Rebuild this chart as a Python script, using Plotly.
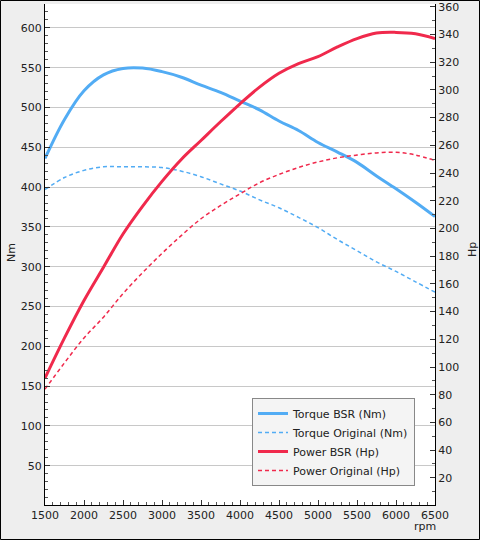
import plotly.graph_objects as go

rpm = [1500, 1750, 2000, 2250, 2500, 2750, 3000, 3250, 3500, 3750, 4000,
       4250, 4500, 4750, 5000, 5250, 5500, 5750, 6000, 6250, 6500]
torque_bsr = [436, 485, 521, 541, 549, 549.5, 545, 538, 528, 519, 508,
              497, 483, 471, 456, 444, 431, 414, 398, 381, 363]
torque_orig = [397, 412, 421, 425.5, 425.5, 425.5, 424.5, 420, 413, 404, 395,
               384, 374, 362, 349, 334, 320, 306, 294, 281, 268]
power_bsr = [92, 121, 148, 172, 196, 216, 234, 250, 263.5, 277, 290,
             302, 312, 319, 324, 331, 337, 341, 341.5, 340.5, 337]
power_orig = [84, 103, 121, 136, 153, 168, 182, 195, 207, 216.5, 225,
              233, 239, 244, 248, 251, 253, 254.5, 255, 253, 249]

BLUE = "#52acf4"
RED = "#f0294c"
FONT = "DejaVu Sans"

fig = go.Figure()
fig.add_trace(go.Scatter(x=rpm, y=torque_bsr, name="Torque BSR (Nm)", mode="lines",
                         line=dict(color=BLUE, width=3, shape="spline", smoothing=1.0), yaxis="y"))
fig.add_trace(go.Scatter(x=rpm, y=torque_orig, name="Torque Original (Nm)", mode="lines",
                         line=dict(color=BLUE, width=1.5, dash="4px,3px", shape="spline", smoothing=1.0), yaxis="y"))
fig.add_trace(go.Scatter(x=rpm, y=power_bsr, name="Power BSR (Hp)", mode="lines",
                         line=dict(color=RED, width=3, shape="spline", smoothing=1.0), yaxis="y2"))
fig.add_trace(go.Scatter(x=rpm, y=power_orig, name="Power Original (Hp)", mode="lines",
                         line=dict(color=RED, width=1.5, dash="4px,3px", shape="spline", smoothing=1.0), yaxis="y2"))

W, H = 480, 540
L, R, T, B = 45, 45, 4, 35
pw, ph = W - L - R, H - T - B

def ann(text, px, py, angle=0):
    return dict(text=text, xref="paper", yref="paper", x=(px - L) / pw, y=1 - (py - T) / ph,
                xanchor="center", yanchor="middle", showarrow=False, textangle=angle,
                font=dict(family=FONT, size=11, color="#222"))

fig.update_layout(
    width=W, height=H,
    margin=dict(l=L, r=R, t=T, b=B, pad=0, autoexpand=False),
    paper_bgcolor="#eeeeee",
    plot_bgcolor="white",
    font=dict(family=FONT, size=11, color="#222222"),
    showlegend=True,
    legend=dict(x=(252 - L) / pw, y=1 - (398 - T) / ph, xanchor="left", yanchor="top",
                bgcolor="#f4f4f4", bordercolor="#888888", borderwidth=1,
                font=dict(family=FONT, size=11, color="#222222"),
                tracegroupgap=0, itemwidth=30),
    xaxis=dict(range=[1500, 6500], tickmode="linear", tick0=1500, dtick=500,
               ticks="inside", ticklen=5, tickcolor="#333", showline=True, automargin=False,
               linecolor="black", linewidth=1, showgrid=False, zeroline=False,
               minor=dict(ticks="inside", ticklen=3, dtick=100, tick0=1500, tickcolor="#555", showgrid=False)),
    yaxis=dict(range=[0.6, 630], tickmode="linear", tick0=50, dtick=50, automargin=False,
               ticks="inside", ticklen=5, tickcolor="#333", showline=True,
               linecolor="black", linewidth=1, showgrid=True, gridcolor="#c8c8c8",
               gridwidth=1, zeroline=False,
               minor=dict(ticks="inside", ticklen=3, dtick=10, tick0=0, tickcolor="#555", showgrid=False)),
    yaxis2=dict(range=[0.4, 362], overlaying="y", side="right", tickmode="linear", automargin=False,
                tick0=20, dtick=20, ticks="inside", ticklen=5, tickcolor="#333",
                showline=True, linecolor="black", linewidth=1, showgrid=False,
                zeroline=False,
                minor=dict(ticks="inside", ticklen=3, dtick=10, tick0=0, tickcolor="#555", showgrid=False)),
    annotations=[
        ann("Nm", 11, 253, -90),
        ann("Hp", 472, 250, -90),
        ann("rpm", 425, 526),
    ],
    shapes=[
        dict(type="rect", xref="paper", yref="paper",
             x0=(0.5 - L) / pw, x1=(W - 0.5 - L) / pw,
             y0=1 - (H - 0.5 - T) / ph, y1=1 - (0.5 - T) / ph,
             line=dict(color="black", width=1), fillcolor="rgba(0,0,0,0)", layer="above"),
    ],
)

fig.write_html("out.html", config={"displayModeBar": False},
               post_script="document.body.style.margin='0';")
